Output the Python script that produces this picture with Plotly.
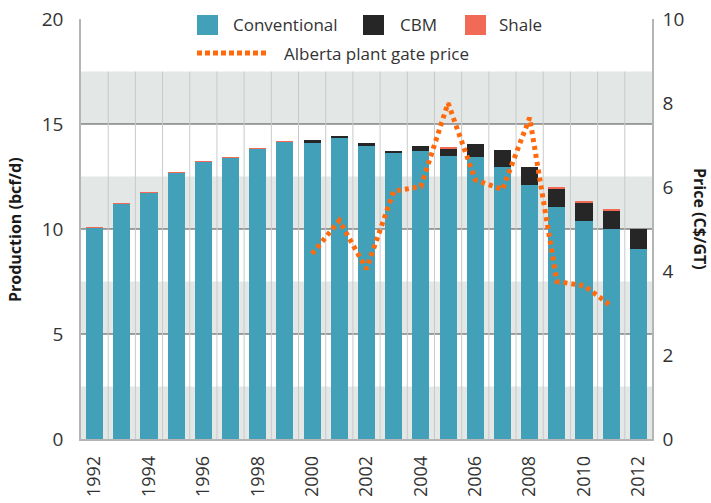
import plotly.graph_objects as go

# ---- data ----
years = list(range(1992, 2013))
conventional = [10.05, 11.2, 11.72, 12.68, 13.2, 13.4, 13.82, 14.15, 14.1, 14.35,
                13.97, 13.6, 13.72, 13.5, 13.44, 12.97, 12.1, 11.05, 10.4, 9.98, 9.05]
cbm = [0, 0, 0, 0, 0, 0, 0, 0, 0.12, 0.09,
       0.13, 0.13, 0.24, 0.32, 0.6, 0.8, 0.86, 0.86, 0.87, 0.91, 0.97]
shale = [0.03, 0.03, 0.03, 0.02, 0.02, 0.02, 0.03, 0.02, 0, 0,
         0, 0, 0, 0.04, 0, 0, 0, 0.08, 0.08, 0.08, 0]
price_years = list(range(2000, 2012))
price = [4.41, 5.2, 4.05, 5.9, 6.01, 8.0, 6.17, 5.94, 7.65, 3.75, 3.65, 3.17]
tick_years = list(range(1992, 2013, 2))
y_ticks = [0, 5, 10, 15, 20]
y2_ticks = [0, 2, 4, 6, 8, 10]
band_ranges = [(0, 2.5), (5, 7.5), (10, 12.5), (15, 17.5)]
grid_levels = [5, 10, 15]

C_CONV = "#42A1B9"
C_CBM = "#262626"
C_SHALE = "#F06A55"
C_PRICE = "#FF6A0D"
FONT = "Open Sans"
TXT = "#333333"

W, H = 711, 503
L, R, T, B = 81, 59, 19, 64
PW, PH = W - L - R, H - T - B


def px_x(p):
    return (p - L) / PW


def px_y(p):
    return (H - B - p) / PH


fig = go.Figure()
fig.add_bar(x=years, y=conventional, name="Conventional", marker_color=C_CONV,
            marker_line_width=0, width=0.63, showlegend=False)
fig.add_bar(x=years, y=cbm, name="CBM", marker_color=C_CBM,
            marker_line_width=0, width=0.63, showlegend=False)
fig.add_bar(x=years, y=shale, name="Shale", marker_color=C_SHALE,
            marker_line_width=0, width=0.63, showlegend=False)
fig.add_scatter(x=price_years, y=price, name="Alberta plant gate price", yaxis="y2",
                mode="lines", line=dict(color=C_PRICE, width=5, dash="4px,4px"),
                showlegend=False)

shapes = []
for a, b in band_ranges:
    shapes.append(dict(type="rect", xref="paper", yref="y", x0=0, x1=1, y0=a, y1=b,
                       fillcolor="#E3E8E6", line_width=0, layer="below"))
for yr in years[:-1]:
    shapes.append(dict(type="line", xref="x", yref="y", x0=yr + 0.5, x1=yr + 0.5,
                       y0=0, y1=17.5, line=dict(color="#C8CACA", width=1), layer="below"))
for g in grid_levels:
    shapes.append(dict(type="line", xref="paper", yref="y", x0=0, x1=1, y0=g, y1=g,
                       line=dict(color="#4a4a4a", width=1.2), layer="below"))

# legend (manual)
leg_items = [("Conventional", C_CONV, 197, 231), ("CBM", C_CBM, 363, 398),
             ("Shale", C_SHALE, 465, 497)]
annotations = []
for name, col, sx, tx in leg_items:
    shapes.append(dict(type="rect", xref="paper", yref="paper",
                       x0=px_x(sx), x1=px_x(sx + 21), y0=px_y(35), y1=px_y(15),
                       fillcolor=col, line_width=0))
    annotations.append(dict(text=name, xref="paper", yref="paper", x=px_x(tx), y=px_y(25),
                            xanchor="left", yanchor="middle", showarrow=False,
                            font=dict(family=FONT, size=17, color=TXT)))
shapes.append(dict(type="line", xref="paper", yref="paper", x0=px_x(197), x1=px_x(268),
                   y0=px_y(53), y1=px_y(53),
                   line=dict(color=C_PRICE, width=5, dash="5px,3px")))
annotations.append(dict(text="Alberta plant gate price", xref="paper", yref="paper",
                        x=px_x(282), y=px_y(53), xanchor="left", yanchor="middle",
                        showarrow=False, font=dict(family=FONT, size=17, color=TXT)))

annotations.append(dict(text="Production (bcf/d)", xref="paper", yref="paper",
                        x=px_x(15), y=px_y(230), textangle=-90, showarrow=False,
                        xanchor="center", yanchor="middle",
                        font=dict(family=FONT, size=16, color="#1a1a1a", weight=700)))
annotations.append(dict(text="Price (C$/GT)", xref="paper", yref="paper",
                        x=px_x(700), y=px_y(219), textangle=90, showarrow=False,
                        xanchor="center", yanchor="middle",
                        font=dict(family=FONT, size=16, color="#1a1a1a", weight=700)))

fig.update_layout(
    width=W, height=H,
    margin=dict(l=L, r=R, t=T, b=B, autoexpand=False),
    paper_bgcolor="white", plot_bgcolor="white",
    barmode="stack",
    showlegend=False,
    shapes=shapes, annotations=annotations,
    font=dict(family=FONT, color=TXT),
    xaxis=dict(range=[1991.5, 2012.5], tickvals=tick_years, automargin=False,
               ticktext=[str(y) for y in tick_years], tickangle=-90,
               showgrid=False, zeroline=False, showline=True, linecolor="#B5B5B5",
               linewidth=1.5, ticks="", ticklabelstandoff=8,
               tickfont=dict(family=FONT, size=18, color=TXT)),
    yaxis=dict(range=[0, 20], tickvals=y_ticks, showgrid=False, zeroline=False,
               automargin=False,
               showline=True, linecolor="#B5B5B5", linewidth=1.5, ticks="",
               ticklabelstandoff=12, tickfont=dict(family=FONT, size=19, color=TXT)),
    yaxis2=dict(range=[0, 10], tickvals=y2_ticks, overlaying="y", side="right",
                automargin=False,
                showgrid=False, zeroline=False, showline=True, linecolor="#B5B5B5",
                linewidth=1.5, ticks="", ticklabelstandoff=5,
                tickfont=dict(family=FONT, size=19, color=TXT)),
)

fig.write_html("out.html", config={"displayModeBar": False},
               post_script="document.body.style.margin='0';document.body.style.overflow='hidden';")
